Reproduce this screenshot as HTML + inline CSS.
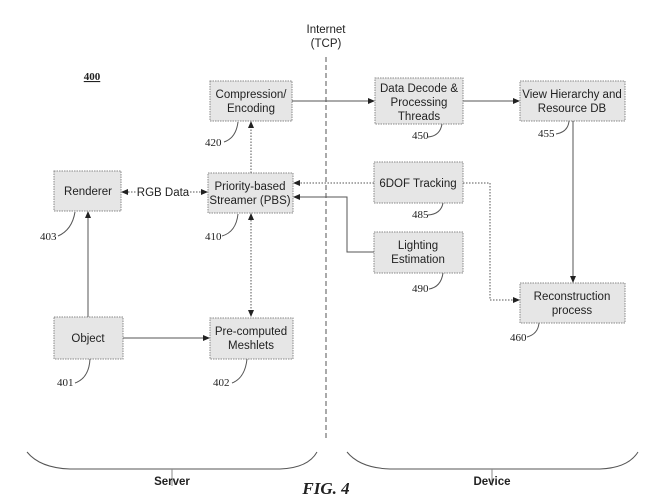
<!DOCTYPE html>
<html><head><style>
body{margin:0;background:#fff}
svg text{font-family:"Liberation Sans",sans-serif;fill:#222}
.b{fill:#e6e6e6;stroke:#888;stroke-width:1;stroke-dasharray:1.5 1}
.t{font-size:11.5px;text-anchor:middle}
svg text.n{font-family:"Liberation Serif",serif;font-size:11px}
.l{stroke:#555;fill:none;stroke-width:1}
.d{stroke:#555;fill:none;stroke-width:1;stroke-dasharray:1.5 1.5}
</style></head><body>
<svg width="671" height="497" viewBox="0 0 671 497" xmlns="http://www.w3.org/2000/svg">
<defs><marker id="a" markerWidth="7" markerHeight="6" refX="6" refY="3" orient="auto"><path d="M0,0L7,3L0,6z" fill="#222"/></marker>
<marker id="s" markerWidth="7" markerHeight="6" refX="1" refY="3" orient="auto"><path d="M7,0L0,3L7,6z" fill="#222"/></marker></defs>
<text x="326" y="33" class="t">Internet</text><text x="326" y="47" class="t">(TCP)</text>
<line x1="326" y1="57" x2="326" y2="440" stroke="#555" stroke-dasharray="5 3"/>
<text x="92" y="80" class="n" style="font-weight:bold;text-decoration:underline" text-anchor="middle">400</text>
<rect class="b" x="210" y="81" width="82" height="40"/><text x="251" y="98" class="t">Compression/</text><text x="251" y="112" class="t">Encoding</text>
<rect class="b" x="54" y="171" width="67" height="40"/><text x="88" y="195" class="t">Renderer</text>
<rect class="b" x="208" y="173" width="85" height="40"/><text x="250" y="190" class="t">Priority-based</text><text x="250" y="204" class="t">Streamer (PBS)</text>
<rect class="b" x="54" y="317" width="69" height="42"/><text x="88" y="342" class="t">Object</text>
<rect class="b" x="210" y="318" width="83" height="41"/><text x="251" y="335" class="t">Pre-computed</text><text x="251" y="349" class="t">Meshlets</text>
<rect class="b" x="375" y="78" width="88" height="46"/><text x="419" y="92" class="t">Data Decode &amp;</text><text x="419" y="106" class="t">Processing</text><text x="419" y="120" class="t">Threads</text>
<rect class="b" x="520" y="81" width="105" height="40"/><text x="572" y="98" class="t">View Hierarchy and</text><text x="572" y="112" class="t">Resource DB</text>
<rect class="b" x="374" y="162" width="89" height="41"/><text x="418" y="187" class="t">6DOF Tracking</text>
<rect class="b" x="374" y="232" width="89" height="41"/><text x="418" y="249" class="t">Lighting</text><text x="418" y="263" class="t">Estimation</text>
<rect class="b" x="520" y="283" width="105" height="40"/><text x="572" y="300" class="t">Reconstruction</text><text x="572" y="314" class="t">process</text>
<line class="l" x1="292" y1="101" x2="374" y2="101" marker-end="url(#a)"/>
<line class="l" x1="463" y1="101" x2="519" y2="101" marker-end="url(#a)"/>
<line class="l" x1="573" y1="121" x2="573" y2="282" marker-end="url(#a)"/>
<line class="d" x1="374" y1="183" x2="294" y2="183" marker-end="url(#a)"/>
<polyline class="d" points="463,183 490,183 490,300 519,300" marker-end="url(#a)"/>
<polyline class="l" points="374,252 347,252 347,197 294,197" marker-end="url(#a)"/>
<line class="d" x1="251" y1="173" x2="251" y2="122" marker-end="url(#a)"/>
<line class="d" x1="251" y1="214" x2="251" y2="316" marker-start="url(#s)" marker-end="url(#a)"/>
<line class="l" x1="88" y1="317" x2="88" y2="212" marker-end="url(#a)"/>
<line class="l" x1="123" y1="338" x2="209" y2="338" marker-end="url(#a)"/>
<line class="d" x1="122" y1="192" x2="137" y2="192" marker-start="url(#s)"/>
<line class="d" x1="190" y1="192" x2="207" y2="192" marker-end="url(#a)"/>
<text x="163" y="196" class="t">RGB Data</text>
<g class="l">
<path d="M238,122 Q236,138 224,142"/><path d="M75,212 Q72,230 58,236"/><path d="M238,214 Q236,232 222,236"/>
<path d="M90,359 Q89,378 75,383"/><path d="M247,359 Q245,378 232,383"/><path d="M442,124 Q440,136 428,137"/>
<path d="M569,121 Q568,132 556,134"/><path d="M443,203 Q441,214 428,215"/><path d="M443,273 Q441,287 429,289"/>
<path d="M539,323 Q538,334 527,337"/>
</g>
<text class="n" x="205" y="146">420</text><text class="n" x="40" y="240">403</text><text class="n" x="205" y="240">410</text>
<text class="n" x="57" y="386">401</text><text class="n" x="213" y="386">402</text><text class="n" x="412" y="139">450</text>
<text class="n" x="538" y="137">455</text><text class="n" x="412" y="218">485</text><text class="n" x="412" y="292">490</text><text class="n" x="510" y="341">460</text>
<path class="l" stroke="#888" d="M27,452 Q40,468 70,469 L280,469 Q308,468 317,452"/>
<line x1="172" y1="469" x2="172" y2="486" stroke="#888"/>
<path class="l" stroke="#888" d="M347,452 Q360,468 390,469 L600,469 Q628,468 638,452"/>
<line x1="492" y1="469" x2="492" y2="486" stroke="#888"/>
<text x="172" y="485" class="t" style="font-weight:bold">Server</text>
<text x="492" y="485" class="t" style="font-weight:bold">Device</text>
<text x="326" y="494" text-anchor="middle" style="font-family:'Liberation Serif',serif;font-weight:bold;font-style:italic;font-size:17px">FIG. 4</text>
</svg>
</body></html>
